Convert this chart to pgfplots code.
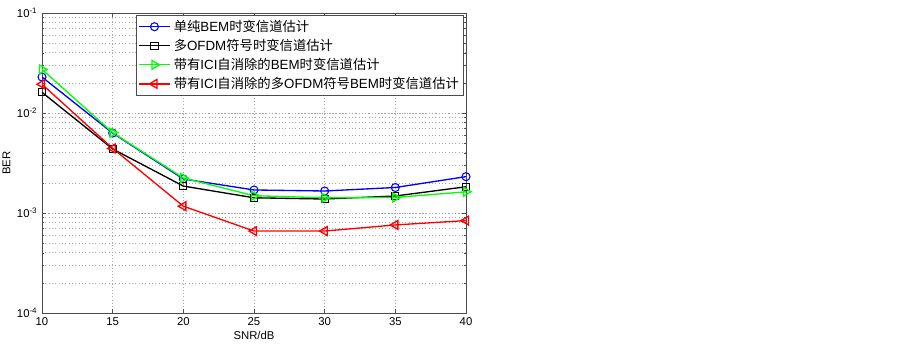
\documentclass[border=0pt]{standalone}
\usepackage{fontspec}
\setmainfont{Liberation Sans}
\newfontfamily\cjk{Noto Sans CJK SC}
\usepackage{pgfplots}
\pgfplotsset{compat=1.18}
\begin{document}
\begin{tikzpicture}[x=0.75pt,y=0.75pt]
\path[use as bounding box] (-42,-31) rectangle (861,313);
\begin{axis}[
  at={(0,0)}, anchor=south west,
  scale only axis, width=318pt, height=225pt,
  ymode=log, xmin=10, xmax=40, ymin=1e-4, ymax=1e-1,
  xtick={10,15,20,25,30,35,40},
  ytick={1e-4,1e-3,1e-2,1e-1},
  yticklabels={10\textsuperscript{-4},10\textsuperscript{-3},10\textsuperscript{-2},10\textsuperscript{-1}},
  /pgf/number format/assume math mode=true,
  tick label style={font=\fontsize{8.5}{10}\selectfont},
  tick align=inside, major tick length=3pt, minor tick length=1.8pt,
  xmajorgrids, ymajorgrids, yminorgrids,
  grid style={gray!70, dotted, line width=0.5pt},
  minor grid style={gray!70, dotted, line width=0.5pt},
  axis line style={black!70}, every tick/.style={black!70},
  xlabel={SNR/dB}, ylabel={BER},
  label style={font=\fontsize{8.5}{10}\selectfont},
  xlabel style={yshift=3pt}, ylabel style={yshift=-2pt},
  legend style={at={(0.995,0.993)}, anchor=north east, font=\fontsize{10}{12}\selectfont,
    draw=black!70, inner sep=1.5pt, row sep=0.3pt, cells={anchor=west}},
  legend image code/.code={\draw[mark repeat=2,mark phase=2] plot coordinates {(0cm,0cm)(0.42cm,0cm)(0.84cm,0cm)};},
  every axis plot/.append style={line width=1pt, mark size=3pt, mark options={solid, line width=0.8pt, fill=none}},
]
\addplot[blue, mark=o] coordinates {(10,0.0229) (15,0.0063) (20,0.00219) (25,0.0017) (30,0.00166) (35,0.0018) (40,0.00231)};
\addlegendentry{{\cjk 单纯}BEM{\cjk 时变信道估计}}
\addplot[black, mark=square, mark size=2.7pt] coordinates {(10,0.0161) (15,0.00437) (20,0.00186) (25,0.00142) (30,0.00138) (35,0.00148) (40,0.00183)};
\addlegendentry{{\cjk 多}OFDM{\cjk 符号时变信道估计}}
\addplot[green, mark=triangle, mark size=3.8pt, mark options={rotate=-90}] coordinates {(10,0.0273) (15,0.00636) (20,0.00224) (25,0.00149) (30,0.00142) (35,0.00143) (40,0.00163)};
\addlegendentry{{\cjk 带有}ICI{\cjk 自消除的}BEM{\cjk 时变信道估计}}
\addplot[red, mark=triangle, mark size=3.8pt, mark options={rotate=90}] coordinates {(10,0.0194) (15,0.00443) (20,0.00117) (25,0.00066) (30,0.00066) (35,0.00076) (40,0.00084)};
\addlegendentry{{\cjk 带有}ICI{\cjk 自消除的多}OFDM{\cjk 符号}BEM{\cjk 时变信道估计}}
\end{axis}
\end{tikzpicture}
\end{document}
